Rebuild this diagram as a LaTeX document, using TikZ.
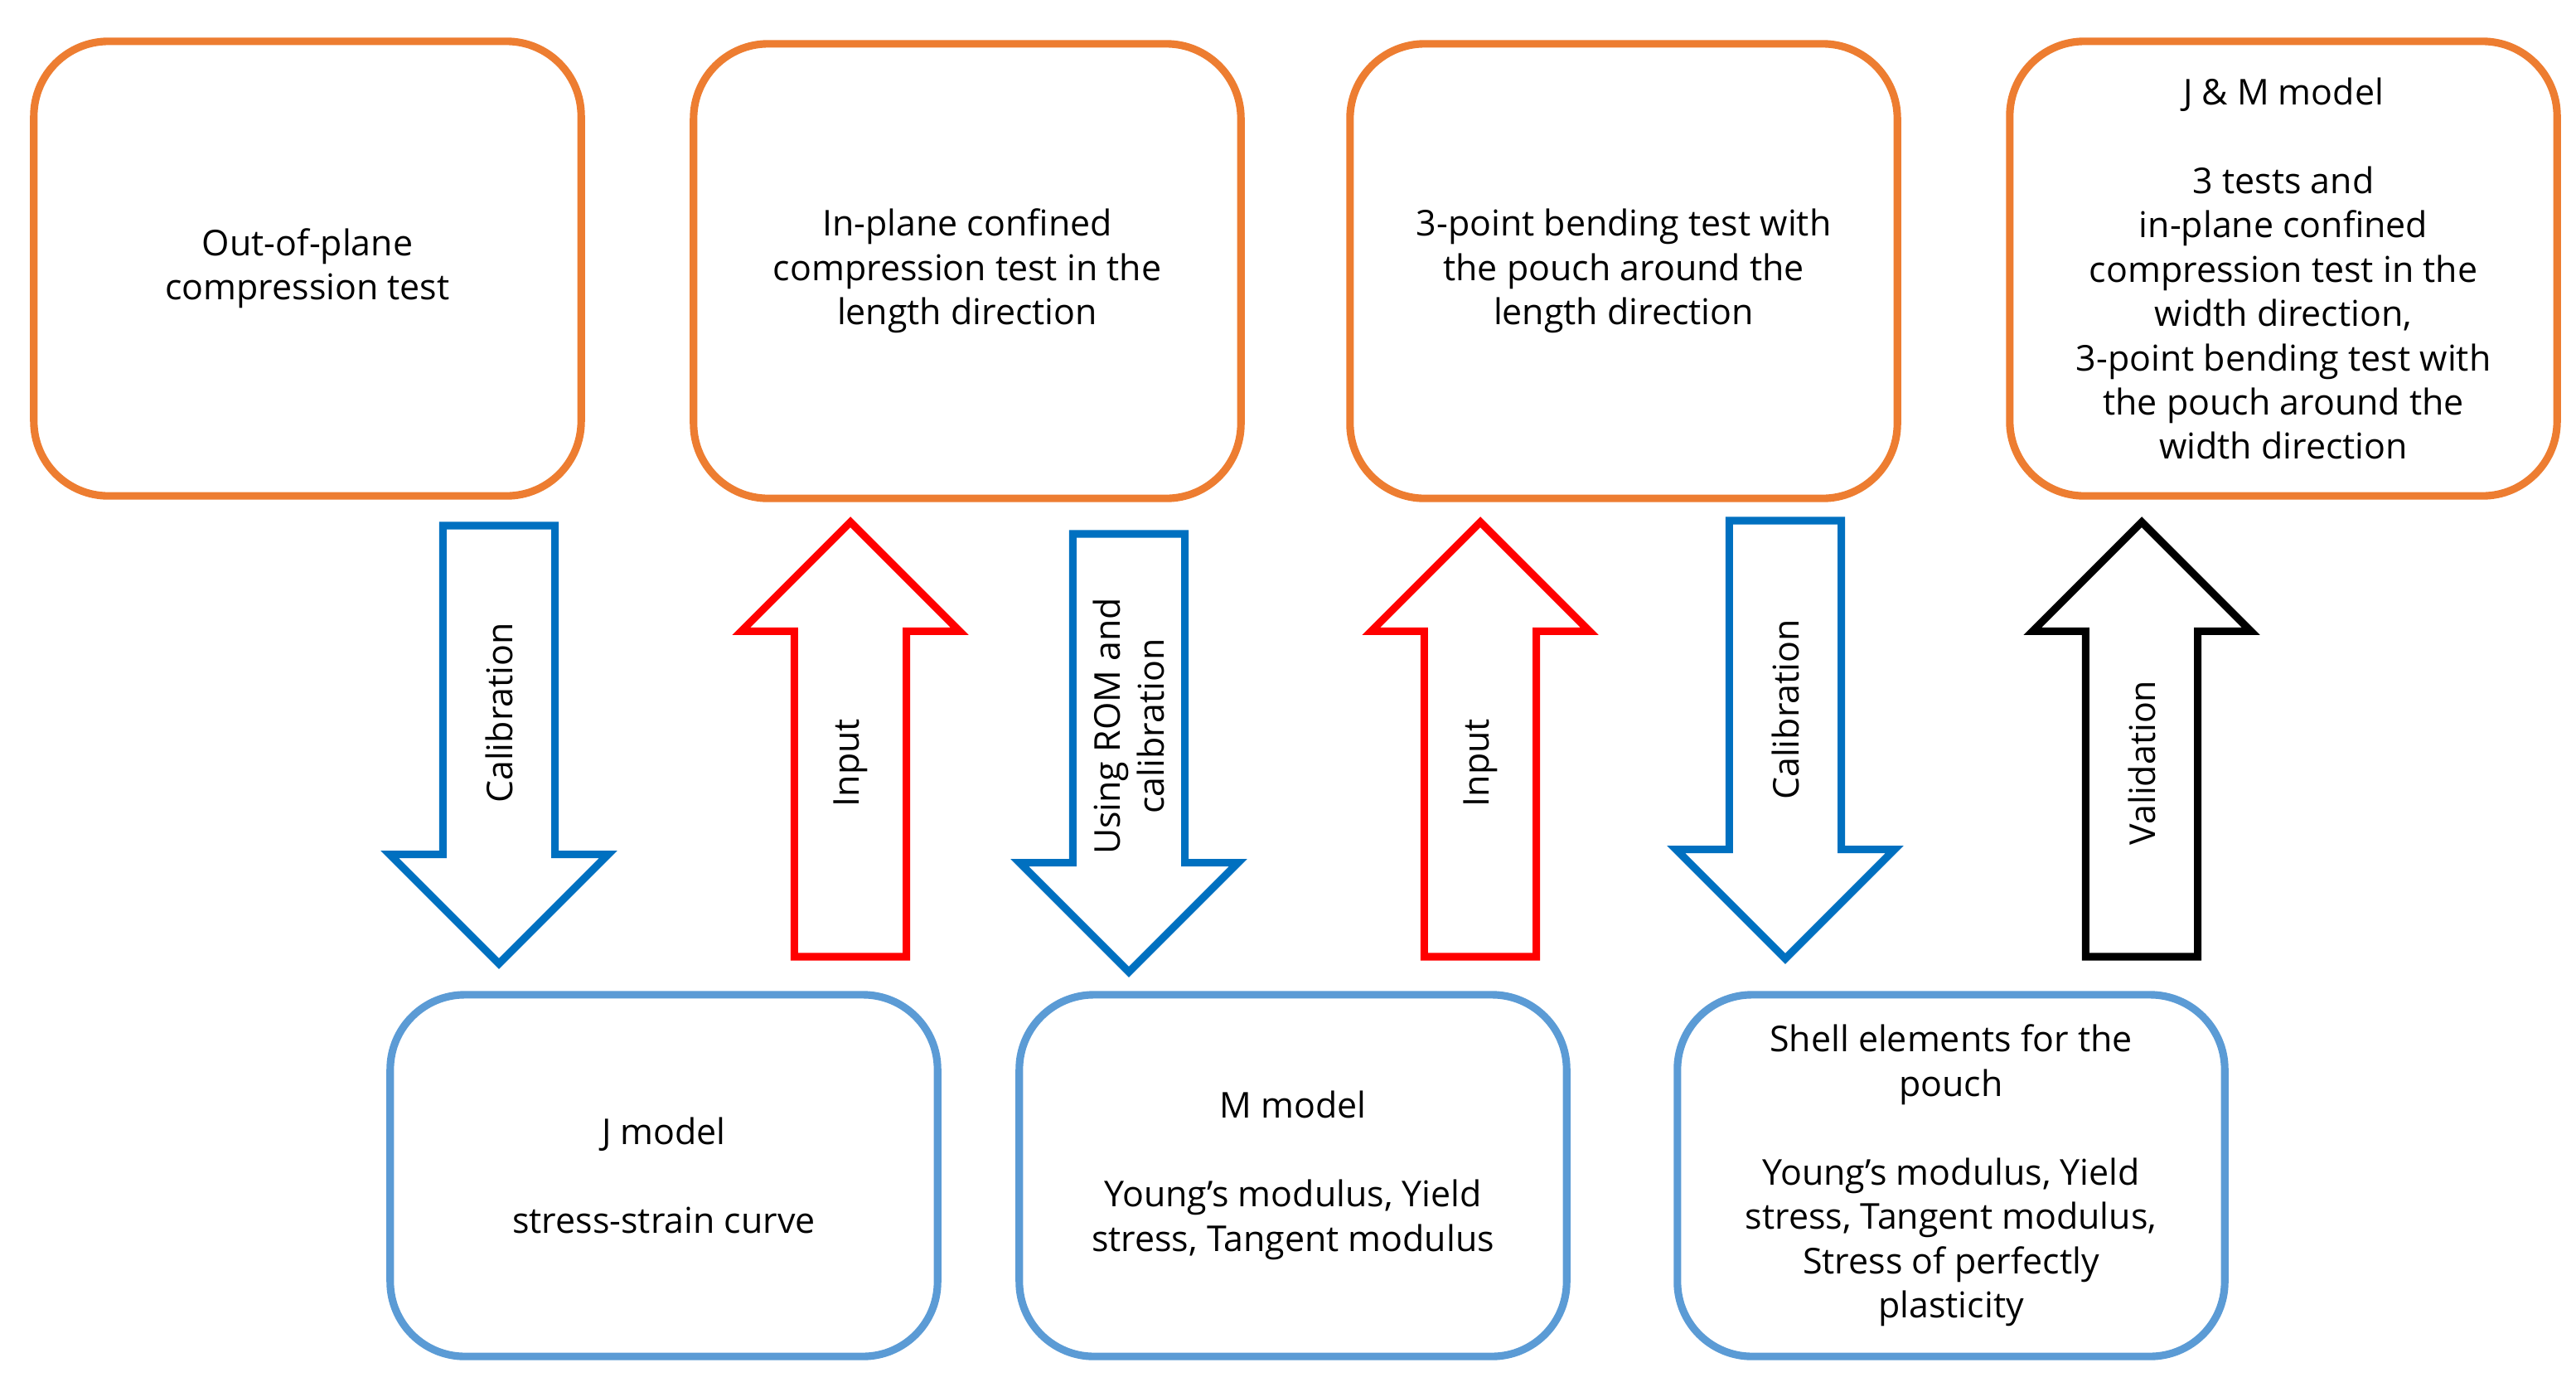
\documentclass[tikz,border=0pt]{standalone}
\usepackage{fontspec}
\setmainfont{Open Sans}
\usetikzlibrary{shapes.arrows}
\begin{document}
\begin{tikzpicture}[x=0.01cm,y=-0.01cm]
	\definecolor{boxorange}{RGB}{237,125,49}
	\definecolor{boxblue}{RGB}{91,155,213}
	\definecolor{calblue}{RGB}{0,112,192}
	\definecolor{inred}{RGB}{255,0,0}
	\tikzstyle{testbox} = [draw=boxorange, line width=1.3pt, rounded corners=0.45cm, minimum width=3.3cm, minimum height=2.74cm, align=center, font=\fontsize{6.1}{7.6}\selectfont]
	\tikzstyle{modelbox} = [testbox, draw=boxblue, minimum height=2.18cm]
	\tikzstyle{blockarrow} = [draw, line width=1.3pt, single arrow, single arrow head extend=0.32cm, single arrow head indent=0pt, minimum width=1.3cm, inner sep=0pt, outer sep=0pt, text height=0.63cm, text depth=0pt, text width=0pt, anchor=tail]
	\tikzstyle{arrowtext} = [rotate=90, align=center, font=\fontsize{6.1}{7.6}\selectfont]
	\useasboundingbox (0,0) rectangle (1554,836);

	% NODES %
	\node[testbox] (oop) at (185.5,162) {Out-of-plane\\compression test};
	\node[testbox] (ipl) at (583.5,163.5) {In-plane confined\\compression test in the\\length direction};
	\node[testbox] (bend) at (979.5,163.5) {3-point bending test with\\the pouch around the\\length direction};
	\node[testbox] (jm) at (1377.5,162) {J \& M model\\[7.6pt]3 tests and\\in-plane confined\\compression test in the\\width direction,\\3-point bending test with\\the pouch around the\\width direction};

	\node[modelbox] (jmod) at (400.5,709) {J model\\[7.6pt]stress-strain curve};
	\node[modelbox] (mmod) at (780,709) {M model\\[7.6pt]Young's modulus, Yield\\stress, Tangent modulus};
	\node[modelbox] (shell) at (1177,709) {Shell elements for the\\pouch\\[7.6pt]Young's modulus, Yield\\stress, Tangent modulus,\\Stress of perfectly\\plasticity};

	% ARROWS %
	\node[blockarrow, draw=calblue, rotate=-90, minimum height=2.64cm] (a1) at (301,317) {};
	\node[arrowtext] at (301,430) {Calibration};
	\node[blockarrow, draw=inred, rotate=90, minimum height=2.62cm] (a2) at (513,577) {};
	\node[arrowtext] at (513,460) {Input};
	\node[blockarrow, draw=calblue, rotate=-90, minimum height=2.64cm] (a3) at (681,322) {};
	\node[arrowtext] at (681,438) {Using ROM and\\calibration};
	\node[blockarrow, draw=inred, rotate=90, minimum height=2.62cm] (a4) at (893,577) {};
	\node[arrowtext] at (893,460) {Input};
	\node[blockarrow, draw=calblue, rotate=-90, minimum height=2.64cm] (a5) at (1077,314) {};
	\node[arrowtext] at (1077,428) {Calibration};
	\node[blockarrow, draw=black, rotate=90, minimum height=2.62cm] (a6) at (1292,577) {};
	\node[arrowtext] at (1292,460) {Validation};
\end{tikzpicture}
\end{document}
